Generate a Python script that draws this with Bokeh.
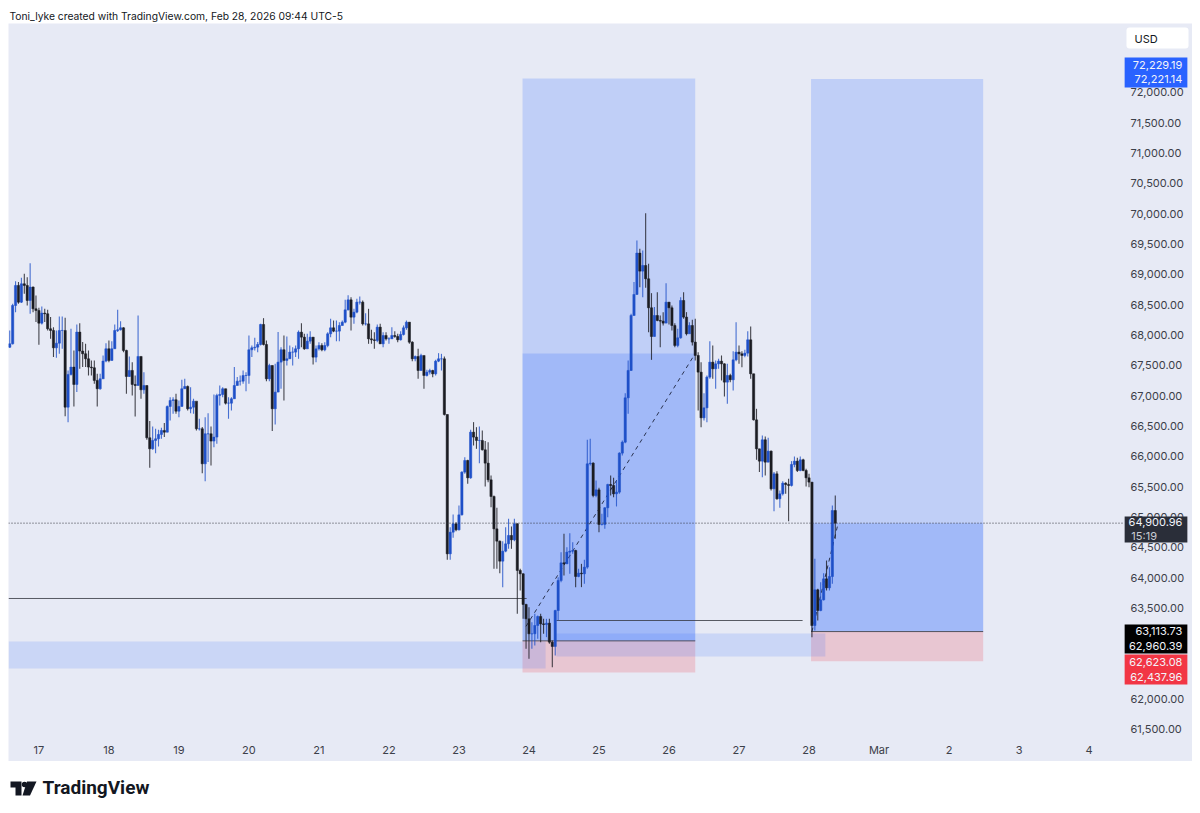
from bokeh.core.properties import value
from bokeh.embed import file_html
from bokeh.layouts import column
from bokeh.models import (BoxAnnotation, ColumnDataSource, FixedTicker, Label,
                          NumeralTickFormatter)
from bokeh.plotting import figure
from bokeh.resources import INLINE

# hourly candles. hour 0 is Feb 17 00:00
first_open = 67800
first_hour = -10

closes = [
    67857, 68489, 68819, 68544, 68846, 68819, 68572, 68792, 68434, 68407, 68198, 68363, 68352, 68105, 68077, 67791,
    67868, 68077, 68077, 66813, 67352, 67473, 67187, 68050, 67737, 67693, 67610, 67473, 67462, 67253, 67116, 67280,
    67572, 67775, 67583, 67775, 68077, 68088, 68121, 67748, 67319, 67418, 67187, 67170, 67649, 67099, 67170, 66308,
    66126, 66264, 66291, 66363, 66429, 66401, 66824, 66923, 66934, 66747, 66824, 67116, 67154, 66786, 66813, 66912,
    66456, 66456, 65879, 66374, 66374, 66253, 66319, 67006, 67022, 67116, 66879, 66879, 66951, 67170, 67242, 67242,
    67335, 67335, 67759, 67791, 67802, 67846, 68176, 67846, 67280, 67500, 66786, 67061, 67555, 67759, 67583, 67610,
    67720, 67720, 67775, 68049, 67967, 67774, 67901, 67967, 67637, 67774, 67829, 67758, 67829, 68022, 68121, 68066,
    68066, 68159, 68214, 68417, 68582, 68296, 68379, 68544, 68544, 68186, 68186, 67939, 67923, 67912, 68132, 67857,
    67994, 67939, 67939, 67994, 67978, 67923, 68011, 68121, 68214, 67884, 67610, 67648, 67417, 67665, 67335, 67390,
    67417, 67362, 67571, 67610, 67610, 66692, 64395, 64752, 64890, 64791, 65038, 65742, 65934, 65648, 66401, 66319,
    66264, 66264, 66110, 65890, 65615, 65340, 64807, 64604, 64274, 64439, 64560, 64698, 64626, 64890, 64121, 64066,
    63560, 63324, 63077, 63077, 63214, 63362, 63241, 63230, 63252, 62939, 62868, 63461, 63956, 64247, 64230, 64423,
    64439, 64450, 64022, 64077, 64066, 64176, 65879, 65890, 65357, 65450, 64879, 64879, 65154, 65538, 65522, 65384,
    65412, 66055, 66236, 66967, 67418, 68324, 68670, 69352, 69055, 69148, 68929, 68451, 67978, 68324, 68242, 68231,
    68198, 68544, 68451, 68159, 67830, 67956, 68571, 68297, 68022, 68159, 67885, 67665, 67390, 66637, 66802, 67308,
    67555, 67445, 67527, 67571, 67527, 67225, 67335, 67264, 67593, 67720, 67692, 67665, 67703, 67923, 67363, 66604,
    66126, 65923, 66275, 65906, 66088, 65467, 65714, 65302, 65384, 65560, 65538, 65522, 65868, 65923, 65769, 65945,
    65769, 65648, 65577, 63213, 63802, 63461, 63637, 63983, 63835, 64021, 65109, 64900.96,
]
highs = [
    68077, 68517, 68890, 68874, 68945, 69011, 68956, 69187, 68803, 68654, 68451, 68473, 68434, 68418, 68297, 68132,
    68077, 68308, 68308, 68286, 67418, 68105, 67748, 68176, 68198, 67885, 67857, 67748, 67583, 67583, 67363, 67363,
    67665, 67868, 67912, 67901, 68176, 68418, 68231, 68132, 67759, 67649, 67555, 67335, 68324, 67649, 67390, 67170,
    66583, 66495, 66456, 66440, 66473, 66550, 66841, 66978, 66978, 67033, 66923, 67264, 67280, 67170, 67143, 66951,
    66879, 66621, 66484, 66648, 66714, 66495, 67022, 67033, 67170, 67143, 67116, 66978, 66978, 67473, 67308, 67335,
    67418, 67390, 67995, 67830, 67956, 67885, 68187, 68280, 67912, 67528, 67500, 67528, 68050, 67802, 67995, 67978,
    67830, 67802, 67830, 68077, 68197, 68022, 68022, 68066, 67967, 67829, 67884, 67868, 67884, 68049, 68269, 68241,
    68241, 68214, 68241, 68582, 68659, 68626, 68434, 68599, 68637, 68571, 68362, 68434, 68088, 68049, 68176, 68186,
    68049, 68049, 67967, 68132, 68066, 68022, 68066, 68159, 68241, 68214, 67901, 67665, 67774, 67692, 67593, 67428,
    67445, 67428, 67593, 67703, 67692, 67648, 66692, 64835, 65044, 64917, 65192, 65758, 65989, 65945, 66439, 66566,
    66483, 66494, 66428, 66253, 66236, 65687, 65357, 65154, 64615, 64604, 64835, 64972, 64846, 64972, 64901, 64148,
    64077, 63571, 63516, 63269, 63406, 63379, 63406, 63324, 63324, 63324, 62967, 63472, 64011, 64423, 64725, 64505,
    64736, 64587, 64461, 64148, 64230, 64296, 66275, 66291, 65906, 65604, 65483, 65055, 65165, 65549, 65687, 65648,
    65604, 66071, 66264, 67044, 67582, 68352, 68874, 69561, 69423, 69396, 70011, 69176, 68692, 68462, 68709, 68324,
    68379, 68857, 68544, 68489, 68198, 68104, 68626, 68709, 68379, 68214, 68253, 68269, 67720, 67555, 67044, 67335,
    67901, 67830, 67582, 67610, 67665, 67538, 67527, 67363, 67736, 68214, 67830, 67736, 67758, 68066, 68143, 67363,
    66786, 66126, 66346, 66330, 66308, 66099, 65742, 65758, 65439, 65593, 65577, 65632, 65923, 65999, 65978, 65999,
    65961, 65796, 65714, 65576, 64313, 63818, 63928, 64076, 64285, 64175, 65192, 65357,
]
lows = [
    67786, 67846, 68379, 68517, 68528, 68682, 68489, 68352, 68379, 68215, 67841, 68176, 68215, 68077, 67940, 67638,
    67627, 67693, 67775, 66665, 66566, 67335, 66824, 67061, 67445, 67473, 67473, 67335, 67335, 67198, 66824, 67099,
    67280, 67555, 67555, 67583, 67775, 68050, 68077, 67720, 67033, 67308, 67006, 66660, 67170, 66951, 67033, 66275,
    65813, 66110, 66055, 66165, 66291, 66319, 66401, 66594, 66703, 66703, 66648, 66824, 67116, 66758, 66714, 66703,
    66429, 66429, 65725, 65593, 65907, 65852, 66154, 66209, 66841, 66978, 66857, 66621, 66758, 66951, 67170, 67170,
    67198, 67077, 67198, 67638, 67748, 67720, 67830, 67830, 67242, 67242, 66418, 66528, 67088, 67116, 66923, 67500,
    67610, 67500, 67638, 67610, 67802, 67758, 67802, 67857, 67516, 67555, 67747, 67736, 67736, 67802, 67967, 68049,
    67901, 67901, 68159, 68198, 68406, 68077, 68186, 68362, 68505, 68159, 68159, 67857, 67857, 67774, 67884, 67857,
    67802, 67912, 67857, 67939, 67956, 67884, 67912, 67994, 68088, 67857, 67571, 67571, 67280, 67417, 67115, 67318,
    67351, 67307, 67335, 67555, 67417, 66675, 64296, 64296, 64659, 64769, 64780, 65027, 65714, 65549, 65632, 66181,
    66126, 65890, 66099, 65505, 65577, 65165, 64148, 64148, 64077, 63846, 64423, 64478, 64478, 64604, 63406, 63791,
    63324, 62829, 62664, 62829, 62884, 62994, 62939, 63077, 63022, 62912, 62527, 62719, 63296, 63928, 64038, 64230,
    64066, 64395, 63846, 64011, 63846, 63901, 64148, 65851, 65329, 65329, 64752, 64862, 64807, 65000, 65357, 65329,
    65176, 65384, 66016, 66220, 66703, 67407, 68324, 68670, 68791, 68626, 68780, 68049, 67593, 67978, 68231, 67802,
    68159, 68214, 68176, 68077, 67802, 67802, 67940, 68269, 67995, 68033, 67830, 67582, 66758, 66483, 66593, 66566,
    67280, 67280, 67115, 67445, 67253, 66989, 66868, 67225, 67088, 67571, 67527, 67472, 67637, 67648, 67280, 66593,
    65945, 65742, 65659, 65687, 65906, 65439, 65099, 65286, 65154, 65357, 65384, 64934, 65505, 65824, 65742, 65758,
    65758, 65505, 65494, 63021, 63131, 63296, 63450, 63626, 63791, 63791, 63900, 64642,
]

# long position boxes, hours and prices
box_left = [165.8, 264.7]
box_right = [225, 323.7]
box_target = [72229.19, 72221.14]
box_entry = [62960.39, 63113.73]
box_stop = [62437.96, 62623.08]
box_reached = [67698, 64900.96]

# blue demand bands
band_left = [-10.4, 177.4]
band_right = [173.7, 269.6]
band_top = [62950, 63082]
band_bottom = [62505, 62703]

# black level lines
level_left = [-10.4, 177.4, 165.8, 264.7]
level_right = [167.2, 261.8, 225, 323.7]
level_price = [63659, 63296, 62960.39, 63113.73]

# dashed trade paths
path_hours = [[167, 225], [265, 274]]
path_prices = [[63200, 67698], [63113.73, 64900.96]]

last_price = 64900.96
y_ticks = [61500 + 500 * i for i in range(22)]
day_labels = ["17", "18", "19", "20", "21", "22", "23", "24", "25", "26", "27", "28", "Mar", "2", "3", "4"]

# price tags on the scale
tag_top = [72577, 65011, 63230, 62736]
tag_bottom = [72082, 64582, 62752, 62241]
tag_colors = ["#2962ff", "#2a2e39", "#000000", "#f23645"]
tag_texts = ["72,229.19", "72,221.14", "64,900.96", "63,113.73", "62,960.39", "62,623.08", "62,437.96"]
tag_text_y = [72448, 72219, 64912, 63115, 62868, 62620, 62373]
countdown = "15:19"
countdown_y = 64697

header_text = "Toni_lyke created with TradingView.com, Feb 28, 2026 09:44 UTC-5"
logo_text = "TradingView"

PANEL = "#e7eaf5"
UP = "#1f50c8"
DOWN = "#1b1c22"
BLUE = "#2962ff"
RED = "#f23645"
INK = "#131722"
FONT = "Inter"


def strip(height):
    # plain white band, the column lines its frame up with the chart frame at x=8
    s = figure(width=1192, height=height, output_backend="svg", toolbar_location=None,
               x_range=(8, 1192), y_range=(height, 0), x_axis_type=None, y_axis_type=None,
               min_border=0, min_border_left=8, outline_line_color=None)
    s.grid.visible = False
    s.background_fill_color = "white"
    s.border_fill_color = "white"
    return s


header = strip(23)
header.text(x=[9], y=[15], text=[header_text], text_baseline="middle", text_color=INK,
            text_font=value(FONT), text_font_size="10.3px")

p = figure(width=1192, height=738, output_backend="svg", toolbar_location=None,
           x_range=(-10.42, 395.46), y_range=(60972, 73137), y_axis_location="right",
           min_border_top=0, min_border_bottom=0, min_border_left=8, min_border_right=0)
p.background_fill_color = PANEL
p.border_fill_color = "white"
p.outline_line_color = None
p.grid.visible = False

p.xaxis.fixed_location = 61302
p.xaxis.ticker = FixedTicker(ticks=[24 * i for i in range(len(day_labels))])
p.xaxis.major_label_overrides = {24 * i: t for i, t in enumerate(day_labels)}
p.yaxis.fixed_location = 373.5
p.yaxis.ticker = FixedTicker(ticks=y_ticks)
p.yaxis.formatter = NumeralTickFormatter(format="0,0.00")
for ax in [p.xaxis[0], p.yaxis[0]]:
    ax.axis_line_color = None
    ax.major_tick_line_color = None
    ax.minor_tick_line_color = None
    ax.major_tick_out = 0
    ax.major_label_text_font = FONT
    ax.major_label_text_font_size = "11px"
    ax.major_label_text_color = "#3c4049"
    ax.major_label_standoff = 2

# zones go under the candles
p.quad(left=box_left, right=box_right, top=box_target, bottom=box_entry,
       fill_color=BLUE, fill_alpha=0.2, line_color=None)
p.quad(left=box_left, right=box_right, top=box_reached, bottom=box_entry,
       fill_color=BLUE, fill_alpha=0.2, line_color=None)
p.quad(left=box_left, right=box_right, top=box_entry, bottom=box_stop,
       fill_color=RED, fill_alpha=0.2, line_color=None)
p.quad(left=band_left, right=band_right, top=band_top, bottom=band_bottom,
       fill_color=BLUE, fill_alpha=0.15, line_color=None)
p.segment(x0=level_left, x1=level_right, y0=level_price, y1=level_price,
          line_color="#33363f", line_width=1, line_alpha=0.8)
p.multi_line(xs=path_hours, ys=path_prices, line_color="#2a3350", line_width=1, line_dash=value([4, 4]))

hours = [first_hour + i for i in range(len(closes))]
opens = [first_open] + closes[:-1]
colors = [UP if c >= o else DOWN for o, c in zip(opens, closes)]
src = ColumnDataSource(dict(hour=hours, open=opens, close=closes, high=highs, low=lows, color=colors))
p.segment("hour", "high", "hour", "low", source=src, line_color="color", line_width=1.1, line_alpha=0.8)
p.vbar("hour", 0.78, "open", "close", source=src, fill_color="color", line_color="color", line_width=0.5)

p.segment(x0=[-10.42], x1=[372], y0=[last_price], y1=[last_price],
          line_color="#33363f", line_width=1, line_dash=value([1, 2]))

# scale tags
p.quad(left=[372.2] * 4, right=[393.7] * 4, top=tag_top, bottom=tag_bottom,
       fill_color=tag_colors, line_color=None, level="overlay")
p.text(x=[392.0] * len(tag_texts), y=tag_text_y, text=tag_texts, text_align="right", text_baseline="middle",
       text_color="#f2f4fa", text_font=value(FONT), text_font_size="11px", level="overlay")
p.text(x=[374.5], y=[countdown_y], text=[countdown], text_align="left", text_baseline="middle",
       text_color="#c9ccd4", text_font=value(FONT), text_font_size="11px", level="overlay")

# screen units are relative to the frame corner, y counting up from its bottom
p.add_layout(BoxAnnotation(left=1118, right=1180, top=734, bottom=713,
                           left_units="screen", right_units="screen", top_units="screen", bottom_units="screen",
                           fill_color="white", fill_alpha=1, line_color=None, border_radius=3))
p.add_layout(Label(x=1126, y=723, x_units="screen", y_units="screen", text="USD", text_font=FONT,
                   text_font_size="11px", text_color=INK, text_baseline="middle"))

# logo strip starts at page y 761
footer = strip(44)
footer.patch(x=[10, 21, 21, 15, 15, 10], y=[20, 20, 34, 34, 26, 26], fill_color=INK, line_color=None)
footer.patch(x=[26.5, 36, 29.5, 22], y=[20, 20, 34, 34], fill_color=INK, line_color=None)
footer.circle(x=[24], y=[23], radius=2.7, fill_color=INK, line_color=None)
footer.text(x=[42], y=[26], text=[logo_text], text_baseline="middle", text_color=INK,
            text_font=value("Roboto"), text_font_size="19px", text_font_style="bold")

page = column(header, p, footer, spacing=0)
open("out.html", "w").write(file_html(page, INLINE))
